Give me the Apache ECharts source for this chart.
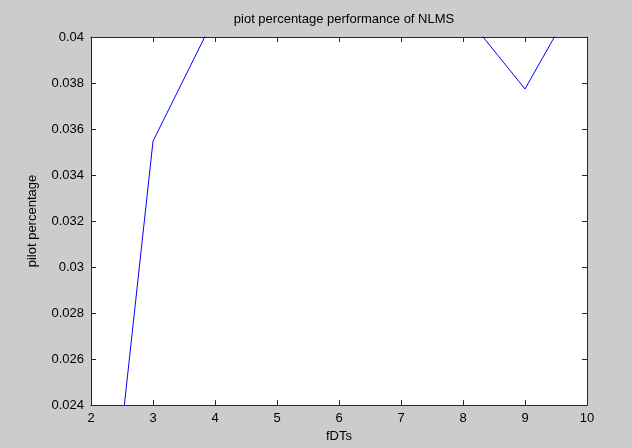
<!DOCTYPE html>
<html><head><meta charset="utf-8">
<script src="https://cdn.jsdelivr.net/npm/echarts@6/dist/echarts.min.js"></script>
<style>html,body{margin:0;padding:0;background:#cccccc;}#c{width:632px;height:448px;}</style>
</head><body><div id="c"></div>
<script>
const xValues = [2, 3, 4, 5, 6, 7, 8, 9, 10];
const pilotPct = [0.01064, 0.03547, 0.0409, 0.0415, 0.0420, 0.0418, 0.04108, 0.03774, 0.04251];
const titleText = 'piot percentage performance of NLMS';
const xName = 'fDTs';
const yName = 'pilot percentage';

const font = 'Liberation Sans, Arial, sans-serif';
const axisColor = '#262626';
const chart = echarts.init(document.getElementById('c'));
const fmt = v => String(parseFloat(v.toFixed(4)));
const baseX = {type:'value', min:2, max:10, interval:1,
  axisLine:{show:true, onZero:false, lineStyle:{color:axisColor, width:1}},
  axisTick:{show:true, inside:true, length:5, lineStyle:{color:axisColor}},
  splitLine:{show:false}};
const baseY = {type:'value', min:0.024, max:0.04, interval:0.002,
  axisLine:{show:true, onZero:false, lineStyle:{color:axisColor, width:1}},
  axisTick:{show:true, inside:true, length:5, lineStyle:{color:axisColor}},
  splitLine:{show:false}};
chart.setOption({
  animation:false,
  backgroundColor:'#cccccc',
  title:{text:titleText, left:339, top:8, textAlign:'center',
    textStyle:{fontFamily:font, fontSize:13, fontWeight:'normal', color:'#000'}},
  grid:{left:91, right:45, top:37, bottom:40, show:true, backgroundColor:'#ffffff', borderWidth:0},
  xAxis:[
    Object.assign({}, baseX, {position:'bottom', name:xName, nameLocation:'middle', nameGap:23,
      nameTextStyle:{fontFamily:font, fontSize:13, color:'#000'},
      axisLabel:{fontFamily:font, fontSize:13, color:'#000', margin:7, formatter:fmt}}),
    Object.assign({}, baseX, {position:'top', axisLabel:{show:false}})
  ],
  yAxis:[
    Object.assign({}, baseY, {position:'left', name:yName, nameLocation:'middle', nameGap:52,
      nameTextStyle:{fontFamily:font, fontSize:13, color:'#000'},
      axisLabel:{fontFamily:font, fontSize:13, color:'#000', margin:7, formatter:fmt}}),
    Object.assign({}, baseY, {position:'right', axisLabel:{show:false}})
  ],
  series:[{type:'line', data:xValues.map((x,i)=>[x, pilotPct[i]]), showSymbol:false, symbol:'none',
    clip:true, lineStyle:{color:'#0000ff', width:1}, itemStyle:{color:'#0000ff'}}]
});
</script></body></html>
